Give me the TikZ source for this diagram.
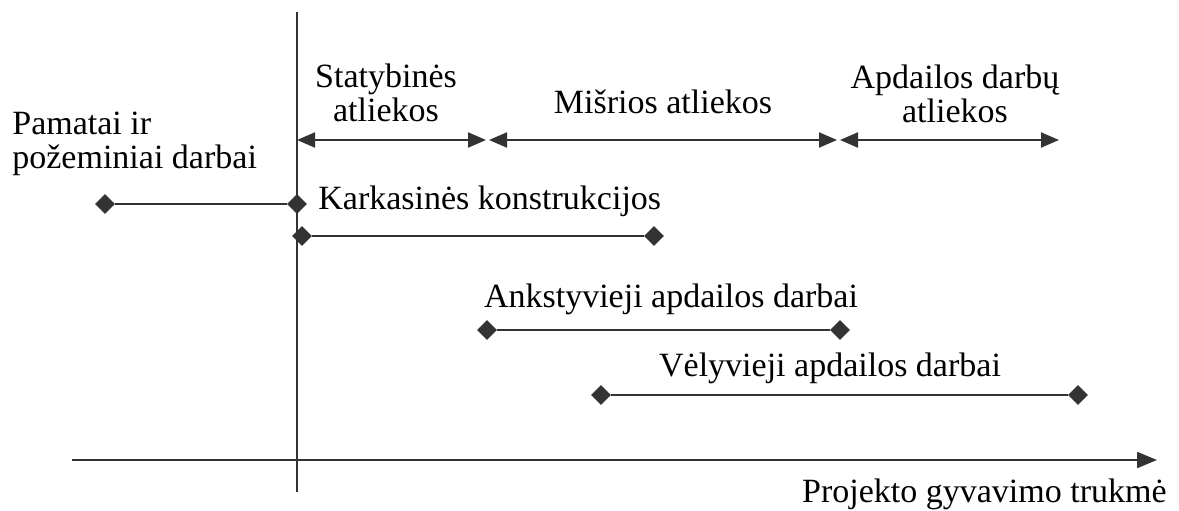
\documentclass[tikz,border=0pt]{standalone}
\usepackage{fontspec}
\setmainfont{Liberation Serif}
\usetikzlibrary{arrows.meta,shapes.geometric}
\tikzstyle{linija} = [draw=black!80, line width=1pt]
\tikzstyle{taskas} = [diamond, fill=black!80, inner sep=0pt, minimum size=10pt]
\tikzstyle{ribos} = [linija, {Triangle[length=9pt,width=7.5pt]}-{Triangle[length=9pt,width=7.5pt]}]
\tikzstyle{zyme} = [font=\fontsize{17}{17}\selectfont, align=center, inner sep=0pt]

\begin{document}
\begin{tikzpicture}[x=0.5pt,y=-0.5pt]
	\useasboundingbox (0,0) rectangle (1179,510);
	% asys
	\coordinate (yv) at (297,12);
	\coordinate (ya) at (297,492);
	\coordinate (xk) at (72,460);
	\coordinate (xd) at (1157,460);
	\draw[linija] (yv) -- (ya);
	\draw[linija, -{Triangle[length=10pt,width=8pt]}] (xk) -- (xd);
	\node[zyme, anchor=south east] (trukme) at (1167,510) {Projekto gyvavimo trukmė};
	% atlieku rusys
	\coordinate (a1) at (297,140);
	\coordinate (a2) at (486,140);
	\coordinate (a3) at (489,140);
	\coordinate (a4) at (837,140);
	\coordinate (a5) at (840,140);
	\coordinate (a6) at (1059,140);
	\draw[ribos] (a1) -- (a2);
	\draw[ribos] (a3) -- (a4);
	\draw[ribos] (a5) -- (a6);
	\node[zyme] (statybines) at (386,93) {Statybinės\\atliekos};
	\node[zyme] (misrios) at (663,102) {Mišrios atliekos};
	\node[zyme] (apdailos) at (955,94) {Apdailos darbų\\atliekos};
	% darbu etapai
	\node[zyme, anchor=west, align=left] (pamatai) at (12,144) {Pamatai ir\\požeminiai darbai};
	\node[taskas] (p1) at (105,204) {};
	\node[taskas] (p2) at (297,204) {};
	\draw[linija] (p1) -- (p2);
	\node[zyme, anchor=west] (karkasas) at (318,201) {Karkasinės konstrukcijos};
	\node[taskas] (k1) at (302,236) {};
	\node[taskas] (k2) at (654,236) {};
	\draw[linija] (k1) -- (k2);
	\node[zyme] (ankstyvieji) at (671,299) {Ankstyvieji apdailos darbai};
	\node[taskas] (n1) at (487,330) {};
	\node[taskas] (n2) at (840,330) {};
	\draw[linija] (n1) -- (n2);
	\node[zyme] (velyvieji) at (830,368) {Vėlyvieji apdailos darbai};
	\node[taskas] (v1) at (601,395) {};
	\node[taskas] (v2) at (1078,395) {};
	\draw[linija] (v1) -- (v2);
\end{tikzpicture}
\end{document}
